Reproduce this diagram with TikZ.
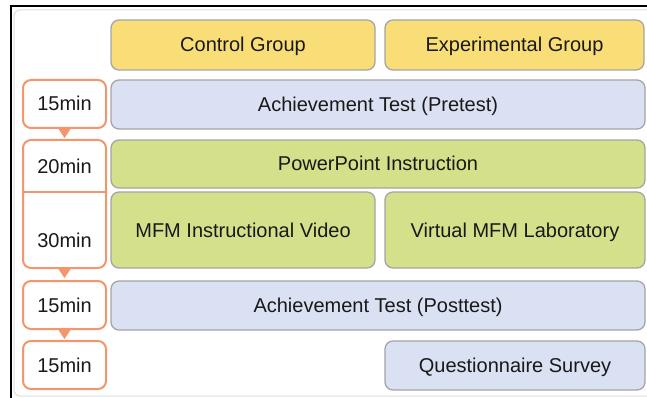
\documentclass[tikz,border=0pt]{standalone}
\usepackage{fontspec}
\setmainfont{Liberation Sans}
\usetikzlibrary{calc}
\definecolor{ylw}{RGB}{249,222,120}
\definecolor{blu}{RGB}{218,225,242}
\definecolor{grn}{RGB}{213,224,138}
\definecolor{org}{RGB}{244,150,108}
\definecolor{edge}{RGB}{165,165,165}
\definecolor{frame}{RGB}{222,222,222}
\begin{document}
\begin{tikzpicture}[x=1pt,y=-1pt,
  lbl/.style={font=\fontsize{20}{22}\selectfont, text=black!90, text height=17pt, text depth=3pt},
  gbox/.style={lbl, draw=edge, line width=1.3pt, rounded corners=8pt, inner sep=0pt},
  tbox/.style={lbl, draw=org, line width=2pt, rounded corners=8pt, fill=white, inner sep=0pt,
    minimum width=83pt},
  tip/.style={fill=org}]
\useasboundingbox (0,0) rectangle (647,398);
\fill[white] (0,0) rectangle (647,398);
% outer frame
\draw[frame, line width=1pt, rounded corners=6pt] (14,10) rectangle (660,396);
\draw[black, line width=2pt] (10,6.5) -- (647,6.5);
\draw[black, line width=2pt] (11,5.5) -- (11,398);

% group headers
\node[gbox, fill=ylw, minimum width=264pt, minimum height=50pt] (cg) at (243,45) {Control Group};
\node[gbox, fill=ylw, minimum width=259pt, minimum height=50pt] (eg) at (514.5,45) {Experimental Group};
% activities
\node[gbox, fill=blu, minimum width=534pt, minimum height=49pt] (pre) at (378,104.5) {Achievement Test (Pretest)};
\node[gbox, fill=grn, minimum width=534pt, minimum height=48pt] (ppt) at (378,164) {PowerPoint Instruction};
\node[gbox, fill=grn, minimum width=264pt, minimum height=76pt] (vid) at (243,230) {MFM Instructional Video};
\node[gbox, fill=grn, minimum width=260pt, minimum height=76pt] (lab) at (515,230) {Virtual MFM Laboratory};
\node[gbox, fill=blu, minimum width=534pt, minimum height=49pt] (post) at (378,305.5) {Achievement Test (Posttest)};
\node[gbox, fill=blu, minimum width=260pt, minimum height=49pt] (qs) at (515,365.5) {Questionnaire Survey};

% time line
\node[tbox, minimum height=48pt] (t1) at (64.5,104) {15min};
\node[tbox, minimum height=128pt] (t2) at (64.5,204) {};
\draw[org, line width=2pt] (t2.west |- 0,192) -- (t2.east |- 0,192);
\node[lbl] (t2a) at (64.5,166) {20min};
\node[lbl] (t2b) at (64.5,240) {30min};
\node[tbox, minimum height=48pt] (t3) at (64.5,305) {15min};
\node[tbox, minimum height=48pt] (t4) at (64.5,365) {15min};

% arrow tips between time boxes
\foreach \b in {t1,t2,t3}{
  \fill[tip] ($(\b.south)+(-6,0)$) -- ($(\b.south)+(6,0)$) -- ($(\b.south)+(0,9)$) -- cycle;
}
\end{tikzpicture}
\end{document}
